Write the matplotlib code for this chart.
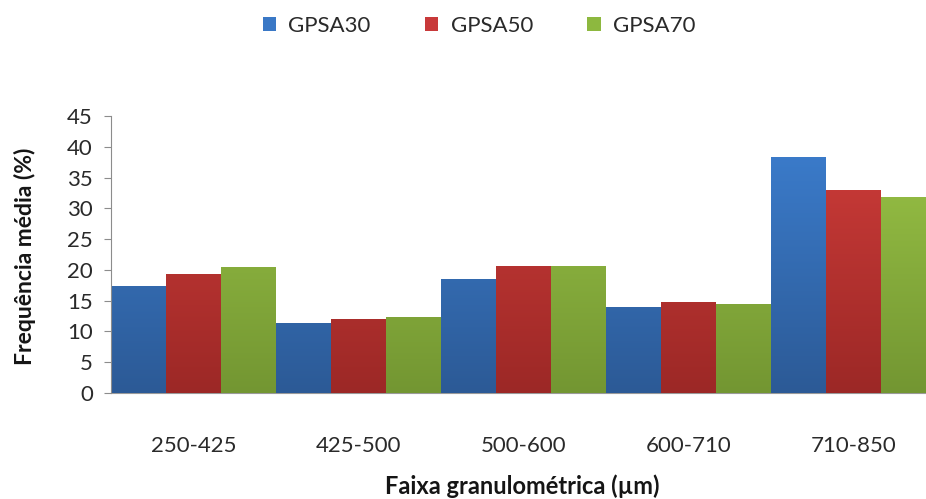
import numpy as np
import matplotlib
matplotlib.use("Agg")
import matplotlib.pyplot as plt
from matplotlib.patches import Patch
from matplotlib.colors import LinearSegmentedColormap

categories = ["250-425", "425-500", "500-600", "600-710", "710-850"]
series_names = ["GPSA30", "GPSA50", "GPSA70"]
gpsa30 = [17.4, 11.3, 18.6, 14.0, 38.4]
gpsa50 = [19.3, 12.1, 20.7, 14.8, 33.0]
gpsa70 = [20.5, 12.3, 20.7, 14.5, 31.9]
y_ticks = [0, 5, 10, 15, 20, 25, 30, 35, 40, 45]

# (top, bottom) gradient colours per series
palettes = [("#3D80D2", "#2C5A96"), ("#D23E3B", "#9C2826"), ("#9DC748", "#739632")]
legend_colors = ["#3A78C6", "#C8393A", "#8DB83F"]

plt.rcParams["font.family"] = ["Lato", "DejaVu Sans"]

W, H = 926, 499
fig = plt.figure(figsize=(W / 100, H / 100), dpi=100)
left, right, top, bottom = 111, 936, 116, 393
ax = fig.add_axes([left / W, 1 - bottom / H, (right - left) / W, (bottom - top) / H])

x = np.arange(len(categories))
width = 1 / 3
values = [gpsa30, gpsa50, gpsa70]
for i, (vals, (ctop, cbot)) in enumerate(zip(values, palettes)):
    bars = ax.bar(x - 0.5 + width * (i + 0.5), vals, width, color=cbot, linewidth=0, zorder=2)
    cmap = LinearSegmentedColormap.from_list(f"g{i}", [cbot, ctop])
    grad = np.linspace(0, 1, 256).reshape(-1, 1)
    for b in bars:
        bx, bw = b.get_x(), b.get_width()
        im = ax.imshow(grad, cmap=cmap, origin="lower", aspect="auto",
                       extent=[bx, bx + bw, 0, 45], zorder=3, interpolation="bilinear")
        im.set_clip_path(b)

ax.set_xlim(-0.5, len(categories) - 0.5)
ax.set_ylim(0, 45)
ax.set_yticks(y_ticks)
ax.set_xticks(x)
ax.set_xticklabels(categories)

for s in ["top", "right"]:
    ax.spines[s].set_visible(False)
ax.spines["left"].set_color("#8C8C8C")
ax.spines["bottom"].set_color("#9A9A9A")
ax.spines["bottom"].set_linestyle((0, (1, 1)))
ax.spines["left"].set_zorder(4)

ax.tick_params(axis="y", colors="#8C8C8C", length=5, direction="out", pad=8,
               labelsize=16, labelcolor="#2A2A2A")
ax.tick_params(axis="x", length=0, pad=31, labelsize=16, labelcolor="#2A2A2A")

fig.text(25 / W, 1 - 256 / H, "Frequência média (%)", rotation=90, ha="center",
         va="center", fontsize=16.5, fontweight="bold", color="#151515")
fig.text(522 / W, 1 / H, "Faixa granulométrica (µm)", ha="center", va="bottom",
         fontsize=17, fontweight="bold", color="#151515")

handles = [Patch(facecolor=c, edgecolor="none") for c in legend_colors]
fig.legend(handles, series_names, loc="center", bbox_to_anchor=(479 / W, 1 - 26 / H),
           ncol=3, frameon=False, fontsize=16, handlelength=0.6, handleheight=0.6,
           handletextpad=0.55, columnspacing=2.45, labelcolor="#2A2A2A")

fig.savefig("out.png", dpi=100)
